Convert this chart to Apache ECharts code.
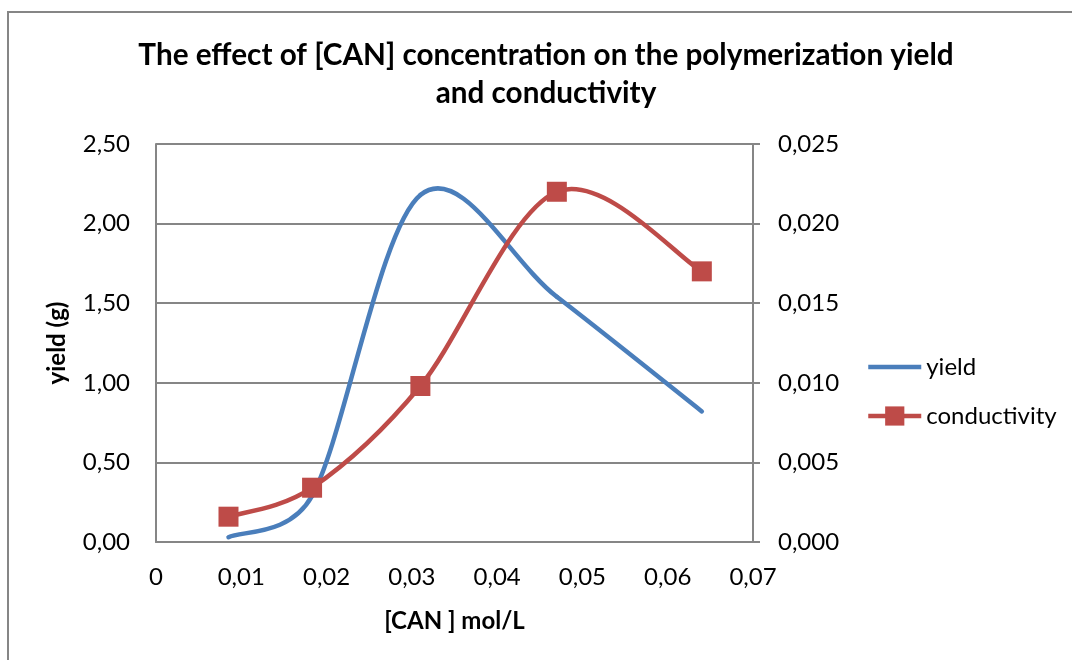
<!DOCTYPE html>
<html>
<head>
<meta charset="utf-8">
<script src="https://cdn.jsdelivr.net/npm/echarts@6/dist/echarts.min.js"></script>
<style>
html,body{margin:0;padding:0;background:#fff;}
#c{width:1072px;height:660px;}
</style>
</head>
<body>
<div id="c"></div>
<script>
const concentration = [0.0085, 0.0183, 0.031, 0.047, 0.064];
const yieldValues = [0.03, 0.29, 2.18, 1.54, 0.82];
const conductivityValues = [0.00159, 0.00341, 0.0098, 0.0220, 0.0170];
const seriesNames = ['yield', 'conductivity'];
const titleText = 'The effect of [CAN] concentration on the polymerization yield\nand conductivity';
const xAxisTitle = '[CAN ] mol/L';
const yAxisTitle = 'yield (g)';

const FONT = 'Lato';
const GRID = '#868686';
const BLUE = '#4A7EBB';
const RED = '#BE4B48';
const TENSION = 1 / 6;

// Excel-like smoothed segment drawn through the library's own coordinate mapping
function smoothSegment(xs, ys, color) {
  return function (params, api) {
    const i = params.dataIndex;
    const n = xs.length;
    if (i >= n - 1) return null;
    const P = xs.map((x, k) => api.coord([x, ys[k]]));
    const dist = (a, b) => Math.hypot(b[0] - a[0], b[1] - a[1]);
    function tangentCp(k, dir) {
      const prev = P[Math.max(k - 1, 0)];
      const next = P[Math.min(k + 1, n - 1)];
      const seg = dist(P[k], P[k + dir]);
      const d02 = dist(prev, next);
      let f = TENSION;
      if (d02 > 0 && f * d02 > seg / 2) f = seg / (2 * d02);
      return [P[k][0] + dir * (next[0] - prev[0]) * f, P[k][1] + dir * (next[1] - prev[1]) * f];
    }
    const A = P[i], B = P[i + 1];
    const c1 = tangentCp(i, 1), c2 = tangentCp(i + 1, -1);
    return {
      type: 'bezierCurve',
      shape: {x1: A[0], y1: A[1], x2: B[0], y2: B[1], cpx1: c1[0], cpy1: c1[1], cpx2: c2[0], cpy2: c2[1]},
      style: {stroke: color, lineWidth: 4.5, fill: null, lineCap: 'round'},
      silent: true
    };
  };
}

const chart = echarts.init(document.getElementById('c'), null, {renderer: 'canvas'});
chart.setOption({
  backgroundColor: '#ffffff',
  animation: false,
  graphic: [{
    type: 'rect',
    shape: {x: 8, y: 12, width: 1100, height: 700},
    style: {fill: 'none', stroke: GRID, lineWidth: 2},
    silent: true
  }, {
    type: 'text',
    x: 57, y: 343,
    rotation: Math.PI / 2,
    style: {
      text: yAxisTitle,
      fontFamily: FONT, fontWeight: 'bold', fontSize: 24, fill: '#000',
      align: 'center', verticalAlign: 'middle'
    },
    silent: true
  }],
  title: {
    text: titleText,
    left: 541,
    top: 31,
    textAlign: 'center',
    textStyle: {fontFamily: FONT, fontWeight: 'bold', fontSize: 29.7, lineHeight: 38, color: '#000'}
  },
  legend: {
    orient: 'vertical',
    left: 861,
    top: 350,
    itemWidth: 53,
    itemHeight: 24,
    itemGap: 25,
    textStyle: {fontFamily: FONT, fontSize: 24, color: '#000'},
    data: [
      {name: seriesNames[0], itemStyle: {opacity: 0}, lineStyle: {color: BLUE, width: 4.5}},
      {name: seriesNames[1], lineStyle: {color: RED, width: 4.5}}
    ]
  },
  grid: {left: 156, right: 319, top: 144, bottom: 118, containLabel: false},
  xAxis: {
    type: 'value',
    min: 0, max: 0.07, interval: 0.01,
    name: xAxisTitle,
    nameLocation: 'middle',
    nameGap: 67,
    nameTextStyle: {fontFamily: FONT, fontWeight: 'bold', fontSize: 24, color: '#000'},
    axisLine: {show: true, lineStyle: {color: GRID, width: 2}},
    axisTick: {show: false},
    splitLine: {show: false},
    axisLabel: {
      margin: 23,
      fontFamily: FONT, fontSize: 24, color: '#000',
      formatter: v => v === 0 ? '0' : v.toFixed(2).replace('.', ',')
    }
  },
  yAxis: [{
    type: 'value',
    min: 0, max: 2.5, interval: 0.5,
    axisLine: {show: true, lineStyle: {color: GRID, width: 2}},
    axisTick: {show: false},
    splitLine: {show: true, lineStyle: {color: GRID, width: 2}},
    axisLabel: {
      margin: 26,
      fontFamily: FONT, fontSize: 24, color: '#000',
      formatter: v => v.toFixed(2).replace('.', ',')
    }
  }, {
    type: 'value',
    min: 0, max: 0.025, interval: 0.005,
    position: 'right',
    axisLine: {show: true, lineStyle: {color: GRID, width: 2}},
    axisTick: {show: true, inside: false, length: 7, lineStyle: {color: GRID, width: 2}},
    splitLine: {show: false},
    axisLabel: {
      margin: 25,
      fontFamily: FONT, fontSize: 24, color: '#000',
      formatter: v => v.toFixed(3).replace('.', ',')
    }
  }],
  series: [
    {name: seriesNames[0], type: 'line', data: [], symbol: 'none',
     lineStyle: {color: BLUE, width: 4.5}, itemStyle: {color: BLUE}},
    {name: seriesNames[1], type: 'line', data: [], yAxisIndex: 1, symbol: 'rect', symbolSize: 20,
     lineStyle: {color: RED, width: 4.5}, itemStyle: {color: RED}},
    {name: seriesNames[0], type: 'custom', yAxisIndex: 0, z: 2,
     renderItem: smoothSegment(concentration, yieldValues, BLUE),
     data: concentration.map((x, i) => [x, yieldValues[i]]), clip: false},
    {name: seriesNames[1], type: 'custom', yAxisIndex: 1, z: 2,
     renderItem: smoothSegment(concentration, conductivityValues, RED),
     data: concentration.map((x, i) => [x, conductivityValues[i]]), clip: false},
    {name: seriesNames[1], type: 'scatter', yAxisIndex: 1, z: 3,
     symbol: 'rect', symbolSize: 20,
     data: concentration.map((x, i) => [x, conductivityValues[i]]),
     itemStyle: {color: RED, opacity: 1}}
  ]
});
</script>
</body>
</html>
